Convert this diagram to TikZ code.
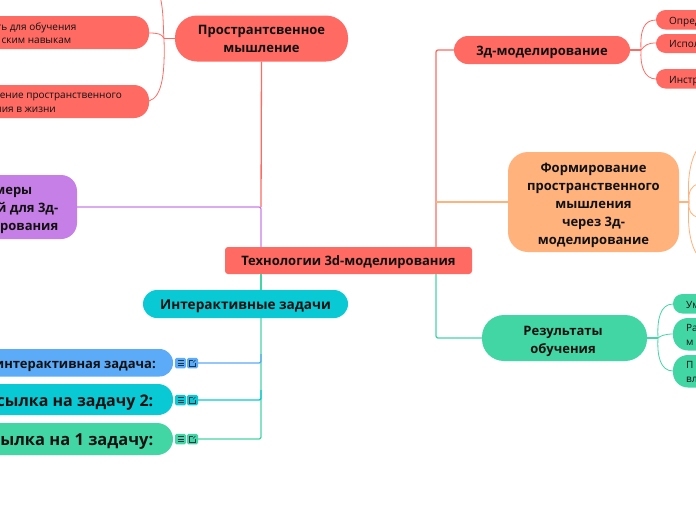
\documentclass[tikz,border=0pt]{standalone}
\usepackage{fontspec}
\setmainfont{Open Sans}
\definecolor{cred}{HTML}{FF6A63}
\definecolor{corange}{HTML}{FFB27C}
\definecolor{cpurple}{HTML}{C77FE8}
\definecolor{cteal}{HTML}{09CAD4}
\definecolor{cgreen}{HTML}{43D6A5}
\definecolor{cblue}{HTML}{5BABF8}
\definecolor{ctext}{HTML}{111111}
\definecolor{cglyph}{HTML}{16384A}
\tikzset{
  box/.style={draw=none,inner sep=0pt,text=ctext,align=center,font=\fontsize{13}{18}\selectfont\bfseries,execute at begin node={\rule{0pt}{14pt}}},
  frag/.style={inner sep=0pt,text=ctext,font=\fontsize{13}{18}\selectfont\bfseries},
  small/.style={inner sep=0pt,text=ctext,font=\fontsize{10}{14}\selectfont},
  trunk/.style={line width=1.3pt},
  twig/.style={line width=0.8pt},
  icon/.style={rounded corners=1.5pt,minimum width=11pt,minimum height=10.5pt,inner sep=0pt},
  glyph/.style={line width=.6pt,cglyph},
}
\begin{document}
\begin{tikzpicture}[x=1pt,y=-1pt]
\useasboundingbox (0,0) rectangle (696,520);
\clip (0,0) rectangle (696,520);
\fill[white] (0,0) rectangle (696,520);
\coordinate (jt) at (261,247);
\coordinate (jb) at (261,274);
\coordinate (jr) at (436,247);
\coordinate (jrb) at (436,274);
\node[box,fill=cred,rounded corners=3pt,minimum width=247pt,minimum height=27pt] (core) at (348.5,260.5) {Технологии 3d-моделирования};
\node[box,fill=cred,rounded corners=22pt,minimum width=173pt,minimum height=46pt] (space) at (261.5,38.5) {\rule[-7pt]{0pt}{18pt}Пространтсвенное\\мышление};
\node[box,fill=cpurple,rounded corners=16pt,minimum width=157pt,minimum height=64pt] (purple) at (-1.5,207) {};
\node[frag,anchor=base east] (p1) at (32.5,194.5) {меры};
\node[frag,anchor=base east] (p2) at (58.5,212.5) {й для 3д-};
\node[frag,anchor=base east] (p3) at (58.5,230.5) {рования};
\node[box,fill=cteal,rounded corners=14pt,minimum width=205pt,minimum height=28pt,font=\fontsize{13.6}{18}\selectfont\bfseries] (inter) at (245.5,304) {Интерактивные задачи};
\node[box,fill=cred,rounded corners=14pt,minimum width=176pt,minimum height=28pt] (model) at (542,50) {3д-моделирование};
\node[box,fill=corange,rounded corners=20pt,minimum width=171pt,minimum height=100pt] (form) at (593.5,202) {\rule{0pt}{16pt}Формирование\\пространственного\\мышления\\через 3д-\\моделирование};
\node[box,fill=cgreen,rounded corners=22pt,minimum width=165pt,minimum height=46pt] (res) at (564.5,338) {\rule{0pt}{16pt}\hspace*{-3pt}Результаты\\\hspace*{-3pt}обучения};
\path[fill=cred,rounded corners=15pt] (-60,16) rectangle (149,49);
\node[small,anchor=base east] (l1a) at (76.5,30.5) {ть для обучения};
\node[small,anchor=base east] (l1b) at (71.5,43.5) {ским навыкам};
\coordinate (l1) at (149,33);
\path[fill=cred,rounded corners=15pt] (-60,85) rectangle (149,118);
\node[small,anchor=base east] (l2a) at (122,98) {ение пространственного};
\node[small,anchor=base east] (l2b) at (56,112) {ния в жизни};
\coordinate (l2) at (149,101);
\path[fill=cblue,rounded corners=13.5pt] (-60,349) rectangle (173,376.5);
\node[frag,anchor=base east] (t1) at (156,368) {интерактивная задача:};
\path[fill=cteal,rounded corners=15pt] (-60,384) rectangle (173,415);
\node[frag,anchor=base east,font=\fontsize{16}{20}\selectfont\bfseries] (t2) at (153.5,406) {сылка на задачу 2:};
\path[fill=cgreen,rounded corners=16pt] (-60,423) rectangle (173,455);
\node[frag,anchor=base east,font=\fontsize{16.5}{20}\selectfont\bfseries] (t3) at (153.5,445) {ылка на 1 задачу:};
\path[fill=cred,rounded corners=9.5pt] (656,10) rectangle (760,29.5);
\node[small,anchor=base west] (r1) at (669,24) {Опред};
\path[fill=cred,rounded corners=9.5pt] (656,34) rectangle (760,53);
\node[small,anchor=base west] (r2) at (669,47) {Испол};
\path[fill=cred,rounded corners=9.5pt] (656,69) rectangle (760,88.5);
\node[small,anchor=base west] (r3) at (669,83) {Инстр};
\path[fill=cgreen,rounded corners=9.5pt] (673,294) rectangle (760,313.5);
\node[small,anchor=base west] (g1) at (686,308) {Ум};
\path[fill=cgreen,rounded corners=15pt] (673,318) rectangle (760,350.5);
\node[small,anchor=base west] (g2) at (686,331.5) {Ра};
\node[small,anchor=base west] (g2b) at (686,345) {м};
\path[fill=cgreen,rounded corners=15pt] (673,355) rectangle (760,387.5);
\node[small,anchor=base west] (g3) at (686,368) {П};
\node[small,anchor=base west] (g3b) at (686,382) {вл};
\foreach \yy/\cc/\nm in {363/cblue/a,400/cteal/b,439/cgreen/c}{
  \node[icon,fill=\cc] (ia\nm) at (180.5,\yy) {};
  \node[icon,fill=\cc] (ib\nm) at (192.5,\yy) {};
  \draw[glyph] (177.5,\yy-2.5) -- (183.5,\yy-2.5) (177.5,\yy) -- (183.5,\yy) (177.5,\yy+2.5) -- (183.5,\yy+2.5);
  \draw[glyph] (192.5,\yy-3) -- (189.5,\yy-3) -- (189.5,\yy+3) -- (195.5,\yy+3) -- (195.5,\yy);
  \draw[glyph] (193,\yy-.5) -- (195.5,\yy-3);
}
\draw[trunk,cred] (space.south) -- (261,207);
\draw[trunk,cpurple,rounded corners=2pt] (purple.east) -- (261,207) -- (jt);
\draw[trunk,cgreen] (jb) -- (jb |- inter.north);
\draw[trunk,cgreen,rounded corners=2pt] (jb |- inter.south) -- (261,439) -- (ibc.east);
\draw[trunk,cteal,rounded corners=2pt] (261,390) -- (261,400) -- (ibb.east);
\draw[trunk,cblue,rounded corners=2pt] (261,354) -- (261,363) -- (iba.east);
\draw[trunk,cred,rounded corners=2pt] (jr) -- (436,50) -- (model.west);
\draw[trunk,corange] (436,202) -- (form.west);
\draw[trunk,cgreen,rounded corners=2pt] (jrb) -- (436,338) -- (res.west);
\draw[trunk,cred] (space.west) -- (164,38.5);
\draw[twig,cred] (164,38.5) .. controls (163,30) and (164,12) .. (160,-4);
\draw[twig,cred] (164,38.5) .. controls (162,34) and (158,33) .. (l1);
\draw[twig,cred] (164,38.5) .. controls (165,70) and (163,97) .. (l2);
\draw[trunk,cred] (model.east) -- (641,50);
\draw[twig,cred] (641,50) .. controls (640,30) and (644,20) .. (656,20);
\draw[twig,cred] (641,50) .. controls (645,45) and (648,43) .. (656,43);
\draw[twig,cred] (641,50) .. controls (640,65) and (644,79) .. (656,79);
\draw[trunk,corange] (form.east) -- (689,202);
\draw[twig,corange] (689,202) .. controls (687,180) and (690,160) .. (698,148);
\draw[twig,corange] (689,202) .. controls (688,192) and (691,186) .. (698,184);
\draw[twig,corange] (689,202) .. controls (688,210) and (691,216) .. (698,217);
\draw[twig,corange] (689,202) .. controls (687,225) and (690,245) .. (698,256);
\draw[trunk,cgreen] (res.east) -- (658,338);
\draw[twig,cgreen] (658,338) .. controls (657,320) and (660,304) .. (673,304);
\draw[twig,cgreen] (658,338) .. controls (660,336) and (665,334) .. (673,334);
\draw[twig,cgreen] (658,338) .. controls (657,355) and (660,371) .. (673,371);
\end{tikzpicture}
\end{document}
